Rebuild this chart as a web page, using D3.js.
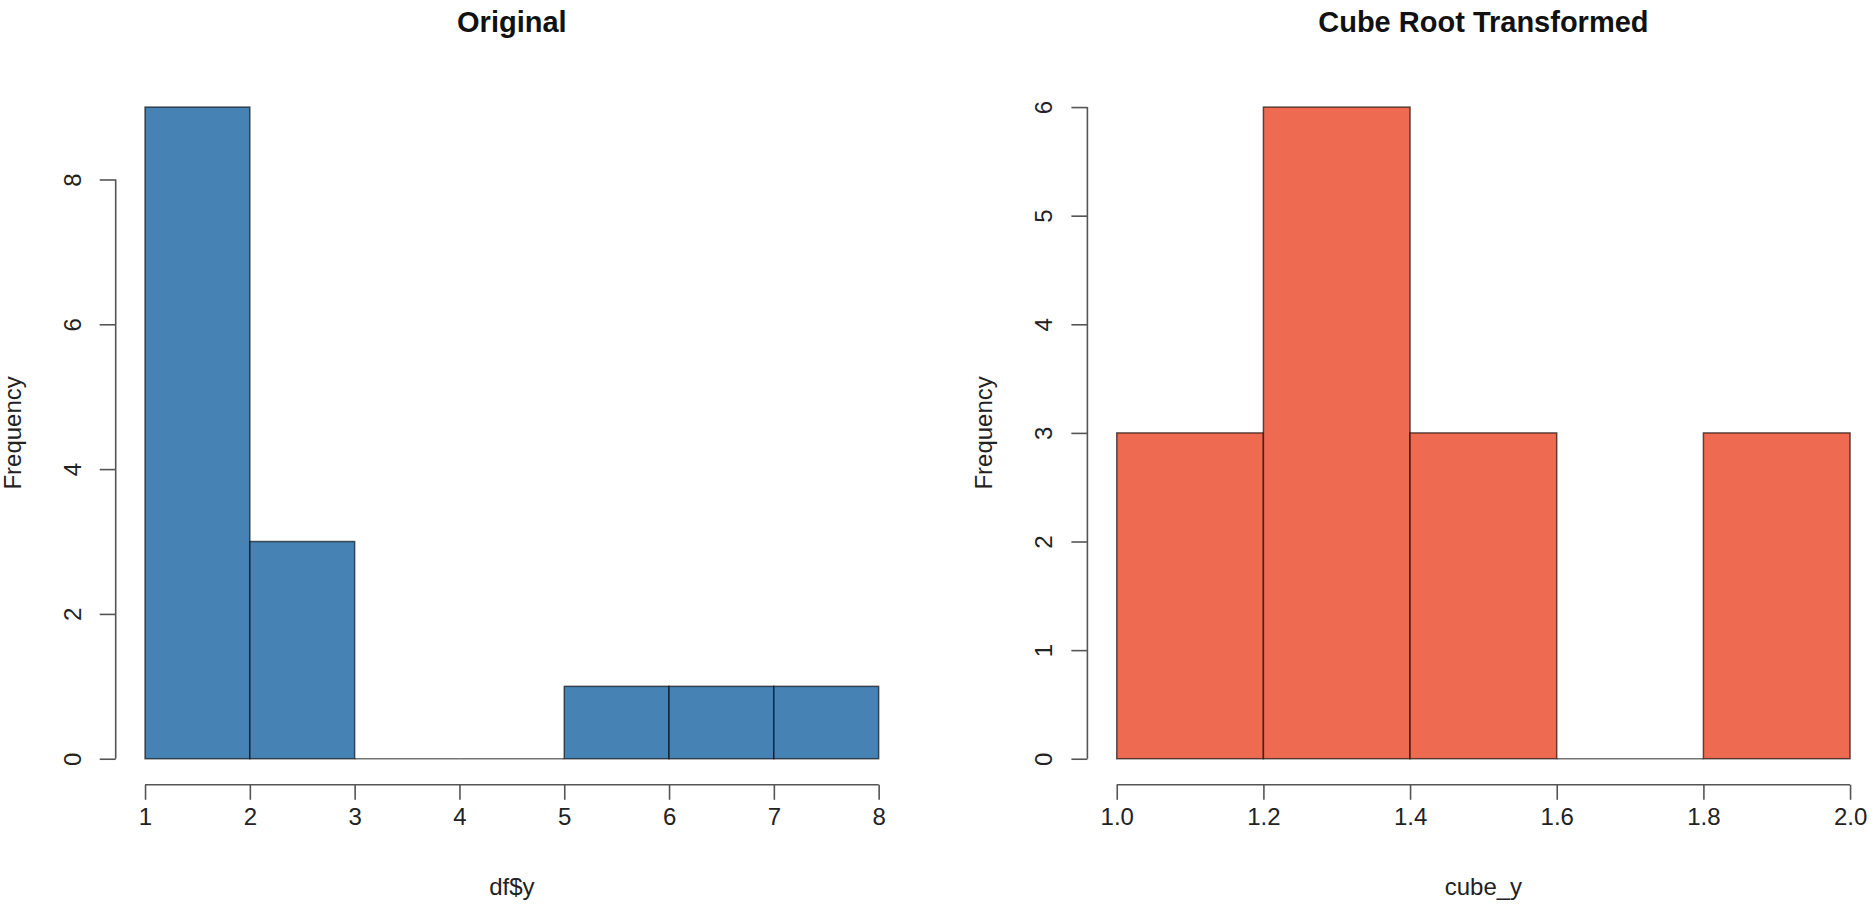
<!DOCTYPE html>
<html>
<head>
<meta charset="utf-8">
<script src="https://cdn.jsdelivr.net/npm/d3@7"></script>
<style>
  body { margin: 0; background: #fff; }
  svg { display: block; font-family: "Liberation Sans", Arial, sans-serif; }
</style>
</head>
<body>
<svg id="chart"></svg>
<script>
// histogram data
var origBreaks = [1, 2, 3, 4, 5, 6, 7, 8];
var origCounts = [9, 3, 0, 0, 1, 1, 1];
var origYTicks = [0, 2, 4, 6, 8];

var cubeBreaks = [1.0, 1.2, 1.4, 1.6, 1.8, 2.0];
var cubeCounts = [3, 6, 3, 0, 3];
var cubeYTicks = [0, 1, 2, 3, 4, 5, 6];

var W = 1874, H = 913;

var svg = d3.select("#chart")
  .attr("width", W)
  .attr("height", H);

// draws one R-style histogram panel
function drawPanel(p) {
  var bins = p.counts.map(function(c, i) {
    return {x0: p.breaks[i], x1: p.breaks[i + 1], n: c};
  });
  var xmin = p.breaks[0], xmax = p.breaks[p.breaks.length - 1];
  var ymax = d3.max(p.counts);
  var xpad = (xmax - xmin) * 0.04, ypad = ymax * 0.04;

  var x = d3.scaleLinear()
    .domain([xmin - xpad, xmax + xpad])
    .range([p.left, p.right]);
  var y = d3.scaleLinear()
    .domain([-ypad, ymax + ypad])
    .range([p.bottom, p.top]);

  var g = svg.append("g");

  g.selectAll(".bar")
    .data(bins.filter(function(d) { return d.n > 0; }))
    .enter()
    .append("rect")
      .attr("class", "bar")
      .attr("x", function(d) { return x(d.x0); })
      .attr("width", function(d) { return x(d.x1) - x(d.x0); })
      .attr("y", function(d) { return y(d.n); })
      .attr("height", function(d) { return y(0) - y(d.n); })
      .attr("fill", p.color)
      .attr("stroke", "rgba(0,0,0,0.62)")
      .attr("stroke-width", 1.5);

  // empty bins still show their border as a flat line
  g.selectAll(".empty")
    .data(bins.filter(function(d) { return d.n === 0; }))
    .enter()
    .append("line")
      .attr("class", "empty")
      .attr("x1", function(d) { return x(d.x0); })
      .attr("x2", function(d) { return x(d.x1); })
      .attr("y1", y(0))
      .attr("y2", y(0))
      .attr("stroke", "rgba(0,0,0,0.55)")
      .attr("stroke-width", 1.5);

  // x axis at bottom edge of plot region
  var xAxis = d3.axisBottom(x)
    .tickValues(p.xTicks)
    .tickSize(15)
    .tickSizeOuter(0)
    .tickPadding(8)
    .tickFormat(p.xFormat);
  var xg = g.append("g")
    .attr("transform", "translate(0," + p.bottom + ")")
    .call(xAxis);
  xg.select(".domain")
    .attr("d", "M" + x(xmin) + ",0H" + x(xmax));

  // y axis at left edge, labels parallel to the axis
  var yAxis = d3.axisLeft(y)
    .tickValues(p.yTicks)
    .tickSize(16)
    .tickSizeOuter(0)
    .tickFormat(d3.format("d"));
  var yg = g.append("g")
    .attr("transform", "translate(" + p.left + ",0)")
    .call(yAxis);
  yg.select(".domain")
    .attr("d", "M0," + y(p.yTicks[0]) + "V" + y(p.yTicks[p.yTicks.length - 1]));
  yg.selectAll(".tick text")
    .attr("x", null)
    .attr("dy", null)
    .attr("transform", "translate(-35,0) rotate(-90)")
    .attr("text-anchor", "middle");

  g.selectAll(".domain, .tick line")
    .attr("stroke", "#555")
    .attr("stroke-width", 1.6);
  g.selectAll(".tick text")
    .attr("fill", "#222")
    .style("font-size", "24px");

  var cx = (p.left + p.right) / 2;
  var cy = (p.top + p.bottom) / 2;

  g.append("text")
    .attr("x", cx)
    .attr("y", 32)
    .attr("text-anchor", "middle")
    .style("font-size", "29px")
    .style("font-weight", "bold")
    .attr("fill", "#111")
    .text(p.title);

  g.append("text")
    .attr("x", cx)
    .attr("y", 895)
    .attr("text-anchor", "middle")
    .style("font-size", "24px")
    .attr("fill", "#222")
    .text(p.xlab);

  g.append("text")
    .attr("transform", "translate(" + (p.left - 95) + "," + cy + ") rotate(-90)")
    .attr("text-anchor", "middle")
    .style("font-size", "24px")
    .attr("fill", "#222")
    .text("Frequency");
}

drawPanel({
  breaks: origBreaks, counts: origCounts,
  xTicks: origBreaks, yTicks: origYTicks,
  xFormat: d3.format("d"),
  color: "#4682B4",
  left: 115.7, right: 908, top: 81, bottom: 784.8,
  title: "Original", xlab: "df$y"
});

drawPanel({
  breaks: cubeBreaks, counts: cubeCounts,
  xTicks: cubeBreaks, yTicks: cubeYTicks,
  xFormat: d3.format(".1f"),
  color: "#EE6A50",
  left: 1087.4, right: 1879.4, top: 81, bottom: 784.8,
  title: "Cube Root Transformed", xlab: "cube_y"
});
</script>
</body>
</html>
